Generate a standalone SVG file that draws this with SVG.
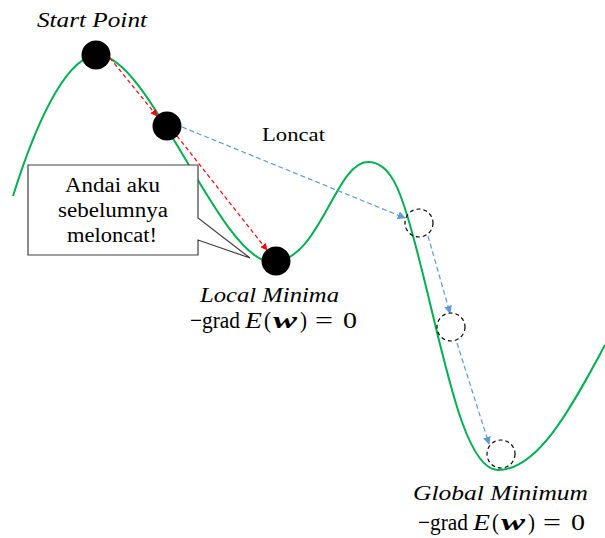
<svg xmlns="http://www.w3.org/2000/svg" width="605" height="538" viewBox="0 0 605 538">
<style>
.t{font-family:"Liberation Serif","DejaVu Serif",serif;fill:#000}
.f{font-family:"Liberation Serif","DejaVu Serif",serif;fill:#000;font-size:23px}
.it{font-style:italic}
.bi{font-style:italic;font-weight:bold}
.curve{fill:none;stroke:#00b050;stroke-width:2}
.ball{fill:#000}
.ghost{fill:none;stroke:#000;stroke-width:1.2;stroke-dasharray:4 3}
.red{fill:none;stroke:#ff0000;stroke-width:1.2;stroke-dasharray:4 3}
.blue{fill:none;stroke:#5b9bd5;stroke-width:1.2;stroke-dasharray:5 3}
</style>
<defs>
<marker id="ar" viewBox="0 0 10 10" refX="9" refY="5" markerWidth="7" markerHeight="7" orient="auto" markerUnits="userSpaceOnUse"><path d="M0,0 L10,5 L0,10 Z" fill="#ff0000"/></marker>
<marker id="ab" viewBox="0 0 10 10" refX="9" refY="5" markerWidth="8" markerHeight="8" orient="auto" markerUnits="userSpaceOnUse"><path d="M0,0 L10,5 L0,10 Z" fill="#5b9bd5"/></marker>
</defs>
<rect width="605" height="538" fill="#fff"/>
<path id="error-curve" class="curve" d="M13,196 C40,110 70,55 98,55 C150,55 220,262 272,262 C320,262 335,162 368,162 C390,162 400,190 410,225 C440,330 460,470 498,470 C540,470 575,400 605,345"/>
<g id="connectors">
<path class="red" d="M110,58 L157,116" marker-end="url(#ar)"/>
<path class="red" d="M177,136 L267,250" marker-end="url(#ar)"/>
<path class="blue" d="M182,127 L405,218" marker-end="url(#ab)"/>
<path class="blue" d="M428,236 L450,313" marker-end="url(#ab)"/>
<path class="blue" d="M457,343 L489,444" marker-end="url(#ab)"/>
</g>
<g id="start"><circle class="ball" cx="96" cy="55" r="14.5"/><text class="t it" x="37" y="27" font-size="22" textLength="110" lengthAdjust="spacingAndGlyphs">Start Point</text></g>
<g id="step"><circle class="ball" cx="167" cy="126" r="14.5"/></g>
<g id="local-min"><circle class="ball" cx="276" cy="261" r="14.5"/>
<text class="t it" x="200" y="302" font-size="22" textLength="139" lengthAdjust="spacingAndGlyphs">Local Minima</text>
<g transform="translate(190,328)">
<text class="f" x="0" textLength="50" lengthAdjust="spacingAndGlyphs">−grad</text>
<text class="f it" x="55" textLength="17" lengthAdjust="spacingAndGlyphs">E</text>
<text class="f" x="74" textLength="7" lengthAdjust="spacingAndGlyphs">(</text>
<text class="f bi" x="83" textLength="24" lengthAdjust="spacingAndGlyphs">w</text>
<text class="f" x="110" textLength="7" lengthAdjust="spacingAndGlyphs">)</text>
<text class="f" x="125" textLength="18" lengthAdjust="spacingAndGlyphs">=</text>
<text class="f" x="153" textLength="14" lengthAdjust="spacingAndGlyphs">0</text>
</g></g>
<g id="jump1"><circle class="ghost" cx="419" cy="223" r="14"/></g>
<g id="jump2"><circle class="ghost" cx="451" cy="327" r="14"/></g>
<g id="global-min"><circle class="ghost" cx="501" cy="454" r="14"/>
<text class="t it" x="413" y="500" font-size="22" textLength="175" lengthAdjust="spacingAndGlyphs">Global Minimum</text>
<g transform="translate(418,530)">
<text class="f" x="0" textLength="50" lengthAdjust="spacingAndGlyphs">−grad</text>
<text class="f it" x="55" textLength="17" lengthAdjust="spacingAndGlyphs">E</text>
<text class="f" x="74" textLength="7" lengthAdjust="spacingAndGlyphs">(</text>
<text class="f bi" x="83" textLength="24" lengthAdjust="spacingAndGlyphs">w</text>
<text class="f" x="110" textLength="7" lengthAdjust="spacingAndGlyphs">)</text>
<text class="f" x="125" textLength="18" lengthAdjust="spacingAndGlyphs">=</text>
<text class="f" x="153" textLength="14" lengthAdjust="spacingAndGlyphs">0</text>
</g></g>
<g id="loncat"><text class="t" x="262" y="141" font-size="18" textLength="63" lengthAdjust="spacingAndGlyphs">Loncat</text></g>
<g id="callout"><path d="M28,165 H198 V218 L250,258 L198,240 V255 H28 Z" fill="#fff" stroke="#404040" stroke-width="1.2"/>
<text class="t" x="65" y="192" font-size="20" textLength="95" lengthAdjust="spacingAndGlyphs">Andai aku</text>
<text class="t" x="58" y="217" font-size="20" textLength="110" lengthAdjust="spacingAndGlyphs">sebelumnya</text>
<text class="t" x="67" y="242" font-size="20" textLength="90" lengthAdjust="spacingAndGlyphs">meloncat!</text></g>
</svg>
